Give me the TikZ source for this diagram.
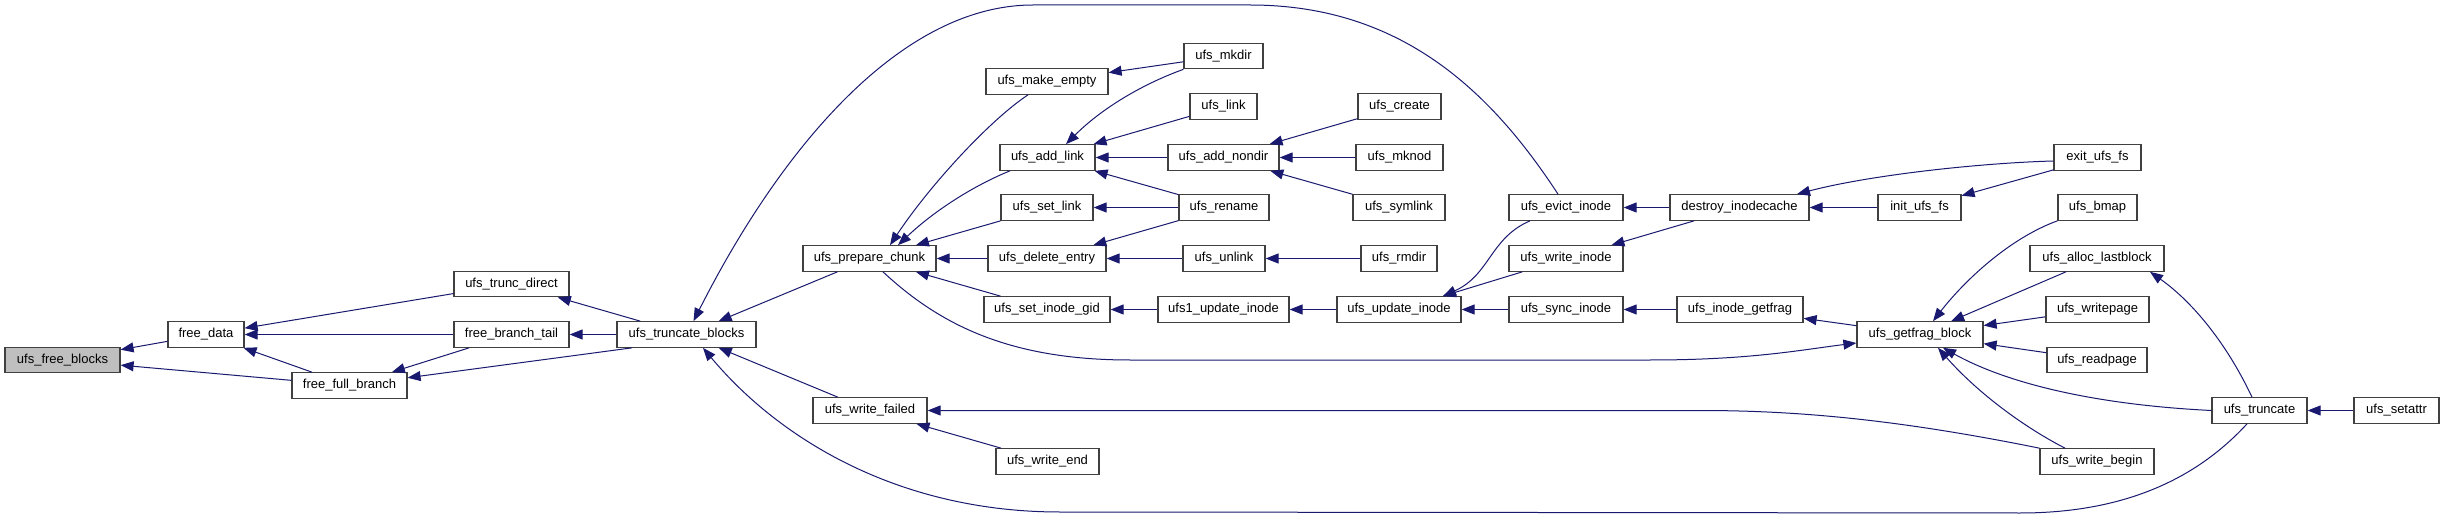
\documentclass[tikz,border=0pt]{standalone}
\usepackage{fontspec}
\setmainfont{Liberation Sans}
\usetikzlibrary{arrows.meta,calc}
\definecolor{mblue}{HTML}{191970}
\definecolor{nodegray}{HTML}{BFBFBF}
\definecolor{boxline}{HTML}{404040}
\tikzset{
  fn/.style={draw=boxline, line width=1.2pt, fill=white, rectangle, inner sep=0pt,
    minimum height=25.5, font=\fontsize{13}{15}\selectfont},
  call/.style={draw=mblue, line width=1pt, {Triangle[length=13pt,width=10pt]}-}
}
\begin{document}
\begin{tikzpicture}[x=1pt,y=-1pt]
\useasboundingbox[fill=white] (0,0) rectangle (2444,521);
% nodes
\node[fn, minimum width=115, fill=nodegray] (fb) at (62.5,360) {ufs\_free\_blocks};
\node[fn, minimum width=76] (fd) at (206,334.5) {free\_data};
\node[fn, minimum width=115] (ffb) at (349.5,385.5) {free\_full\_branch};
\node[fn, minimum width=115] (td) at (511.5,284) {ufs\_trunc\_direct};
\node[fn, minimum width=115] (fbt) at (511.5,334.5) {free\_branch\_tail};
\node[fn, minimum width=139] (tb) at (686.5,334.5) {ufs\_truncate\_blocks};
\node[fn, minimum width=133] (pc) at (869.5,258.5) {ufs\_prepare\_chunk};
\node[fn, minimum width=114] (wf) at (870,410.5) {ufs\_write\_failed};
\node[fn, minimum width=122] (me) at (1047,81.5) {ufs\_make\_empty};
\node[fn, minimum width=95] (al) at (1047.5,157.5) {ufs\_add\_link};
\node[fn, minimum width=92] (sl) at (1047,207.5) {ufs\_set\_link};
\node[fn, minimum width=118] (de) at (1047,258.5) {ufs\_delete\_entry};
\node[fn, minimum width=126] (sig) at (1047,309.5) {ufs\_set\_inode\_gid};
\node[fn, minimum width=103] (we) at (1047.5,461.5) {ufs\_write\_end};
\node[fn, minimum width=79] (mk) at (1223.5,56) {ufs\_mkdir};
\node[fn, minimum width=67] (ln) at (1223.5,106.5) {ufs\_link};
\node[fn, minimum width=111] (an) at (1223.5,157.5) {ufs\_add\_nondir};
\node[fn, minimum width=90] (rn) at (1224,207.5) {ufs\_rename};
\node[fn, minimum width=82] (ul) at (1224,258.5) {ufs\_unlink};
\node[fn, minimum width=131] (u1) at (1223.5,309.5) {ufs1\_update\_inode};
\node[fn, minimum width=83] (cr) at (1399.5,106.5) {ufs\_create};
\node[fn, minimum width=87] (mn) at (1399.5,157.5) {ufs\_mknod};
\node[fn, minimum width=92] (sy) at (1399,207.5) {ufs\_symlink};
\node[fn, minimum width=76] (rm) at (1399,258.5) {ufs\_rmdir};
\node[fn, minimum width=124] (ui) at (1399,309.5) {ufs\_update\_inode};
\node[fn, minimum width=114] (ei) at (1566,207.5) {ufs\_evict\_inode};
\node[fn, minimum width=114] (wi) at (1566,258.5) {ufs\_write\_inode};
\node[fn, minimum width=114] (si) at (1566,309.5) {ufs\_sync\_inode};
\node[fn, minimum width=139] (dic) at (1739.5,207.5) {destroy\_inodecache};
\node[fn, minimum width=83] (iuf) at (1919.5,207.5) {init\_ufs\_fs};
\node[fn, minimum width=126] (ig) at (1740,309.5) {ufs\_inode\_getfrag};
\node[fn, minimum width=126] (gb) at (1920,334.5) {ufs\_getfrag\_block};
\node[fn, minimum width=87] (euf) at (2097.5,157.5) {exit\_ufs\_fs};
\node[fn, minimum width=79] (bm) at (2097.5,207.5) {ufs\_bmap};
\node[fn, minimum width=134] (alb) at (2097,258.5) {ufs\_alloc\_lastblock};
\node[fn, minimum width=103] (wp) at (2097.5,309.5) {ufs\_writepage};
\node[fn, minimum width=100] (rp) at (2097,360) {ufs\_readpage};
\node[fn, minimum width=95] (tr) at (2259.5,410.5) {ufs\_truncate};
\node[fn, minimum width=85] (sa) at (2396.5,410.5) {ufs\_setattr};
\node[fn, minimum width=114] (wb) at (2097,461.5) {ufs\_write\_begin};
% edges (arrow at callee)
\draw[call] (fb) -- (fd);
\draw[call] (fb) -- (ffb);
\draw[call] (fd) -- (td);
\draw[call] (fd) -- (fbt);
\draw[call] (fd) -- (ffb);
\draw[call] (ffb) -- (fbt);
\draw[call] (ffb) -- ($(tb.south)+(-54.5,0)$);
\draw[call] (td) -- (tb);
\draw[call] (fbt) -- (tb);
\draw[call] (tb) -- (pc);
\draw[call] (tb) -- (wf);
\draw[call] ($(tb.north)+(7,0)$) .. controls (780,150) and (900,5) .. (1033,5) -- (1250,5) .. controls (1400,5) and (1490,90) .. ($(ei.north)+(-8,0)$);
\draw[call] ($(tb.south)+(16.5,0)$) .. controls (780,440) and (900,512) .. (1060,512) -- (2020,513) .. controls (2130,513) and (2200,475) .. ($(tr.south)+(-12.5,0)$);
\draw[call] ($(pc.north)+(20.5,0)$) .. controls (930,185) and (990,120) .. ($(me.south)+(-19,0)$);
\draw[call] ($(pc.north)+(28.5,0)$) .. controls (935,210) and (975,185) .. ($(al.south)+(-37.5,0)$);
\draw[call] (pc) -- (sl);
\draw[call] (pc) -- (de);
\draw[call] (pc) -- (sig);
\draw[call] ($(gb.west)+(0,8.5)$) .. controls (1800,350) and (1750,360) .. (1650,360) -- (1130,360) .. controls (1010,360) and (940,325) .. ($(pc.south)+(13.5,0)$);
\draw[call] (me) -- (mk);
\draw[call] ($(al.north)+(18.5,0)$) .. controls (1100,110) and (1140,85) .. (mk.south west);
\draw[call] (al) -- (ln);
\draw[call] (al) -- (an);
\draw[call] (al) -- (rn);
\draw[call] (sl) -- (rn);
\draw[call] (de) -- (rn);
\draw[call] (de) -- (ul);
\draw[call] (sig) -- (u1);
\draw[call] (an) -- (cr);
\draw[call] (an) -- (mn);
\draw[call] (an) -- (sy);
\draw[call] (ul) -- (rm);
\draw[call] (u1) -- (ui);
\draw[call] ($(ui.north)+(44,0)$) .. controls (1490,275) and (1490,238) .. ($(ei.south)+(-36,0)$);
\draw[call] (ui) -- (wi);
\draw[call] (ui) -- (si);
\draw[call] (ei) -- (dic);
\draw[call] (wi) -- (dic);
\draw[call] (dic) -- (iuf);
\draw[call] ($(dic.north)+(57.5,0)$) .. controls (1870,175) and (1980,163) .. ($(euf.west)+(0,3.5)$);
\draw[call] (iuf) -- (euf);
\draw[call] (si) -- (ig);
\draw[call] (ig) -- (gb);
\draw[call] ($(gb.north)+(13,0)$) .. controls (1965,280) and (2010,238) .. (bm.south west);
\draw[call] (gb) -- (alb);
\draw[call] (gb) -- (wp);
\draw[call] (gb) -- (rp);
\draw[call] ($(gb.south)+(23,0)$) .. controls (2010,385) and (2100,405) .. (tr.west);
\draw[call] ($(gb.south)+(18,0)$) .. controls (1975,390) and (2020,425) .. ($(wb.north)+(-32,0)$);
\draw[call] ($(alb.south)+(53,0)$) .. controls (2190,300) and (2225,340) .. ($(tr.north)+(-7.5,0)$);
\draw[call] (tr) -- (sa);
\draw[call] (wf.east) -- (1700,410.5) .. controls (1800,410.5) and (1900,420) .. (wb.north west);
\draw[call] (wf) -- (we);
\end{tikzpicture}
\end{document}
